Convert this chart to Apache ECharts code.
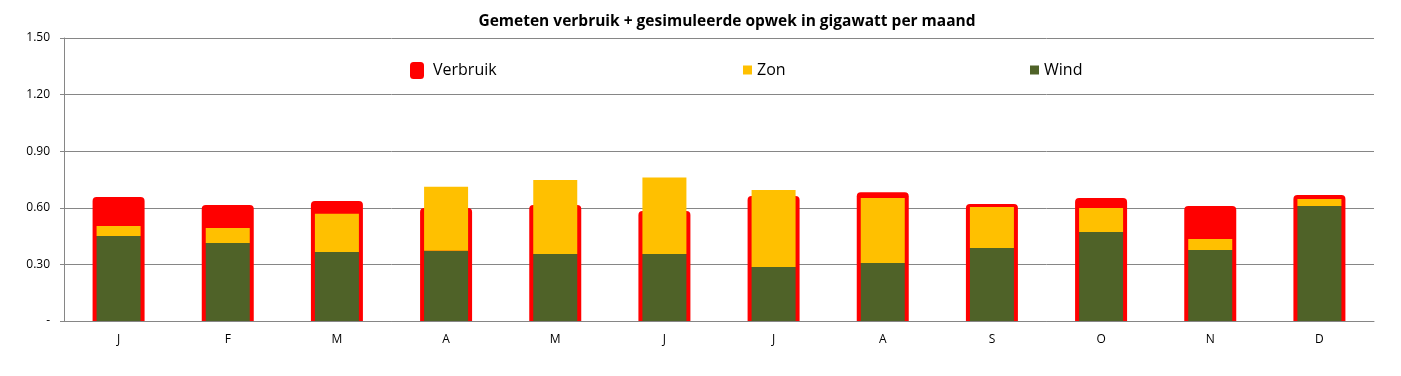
<html lang="nl">
<head>
    <meta charset="UTF-8">
    <title>Verbruik en opwek</title>
    <style>
        html, body { margin: 0; width: 100%; height: 100%; background: #fff; overflow: hidden; }
        #container { width: 1401px; height: 376px; }
    </style>
</head>
<body>
<div id="container"></div>
<script src="https://cdn.jsdelivr.net/npm/echarts@6/dist/echarts.min.js"></script>
<script>
    // maanden
    var months = ['J', 'F', 'M', 'A', 'M', 'J', 'J', 'A', 'S', 'O', 'N', 'D'];
    // gemeten verbruik (GW)
    var verbruik = [0.657, 0.615, 0.636, 0.599, 0.615, 0.583, 0.662, 0.682, 0.620, 0.652, 0.609, 0.668];
    // gesimuleerde opwek wind (GW)
    var wind = [0.450, 0.413, 0.366, 0.373, 0.355, 0.355, 0.286, 0.307, 0.387, 0.472, 0.376, 0.609];
    // gesimuleerde opwek zon (GW), gestapeld op wind
    var zon = [0.053, 0.080, 0.203, 0.339, 0.392, 0.405, 0.408, 0.345, 0.217, 0.127, 0.059, 0.038];
    var yTicks = ['-', '0.30', '0.60', '0.90', '1.20', '1.50'];

    var font = 'Open Sans, Roboto, sans-serif';
    var grey = '#868686';

    var myChart = echarts.init(document.getElementById('container'));
    var option = {
        animation: false,
        title: {
            text: 'Gemeten verbruik + gesimuleerde opwek in gigawatt per maand',
            left: 722, top: 9, textAlign: 'center',
            textStyle: { fontFamily: font, fontSize: 15.5, fontWeight: 'bold', color: '#000' }
        },
        legend: [
            { data: ['Verbruik'], left: 410, top: 62, padding: 0, icon: 'roundRect', itemWidth: 14, itemHeight: 17,
              textStyle: { fontFamily: font, fontSize: 16, color: '#000', padding: [0, 0, 0, 4] } },
            { data: ['Zon'], left: 743, top: 62, padding: 0, icon: 'rect', itemWidth: 9, itemHeight: 9,
              textStyle: { fontFamily: font, fontSize: 16, color: '#000' } },
            { data: ['Wind'], left: 1030, top: 62, padding: 0, icon: 'rect', itemWidth: 9, itemHeight: 9,
              textStyle: { fontFamily: font, fontSize: 16, color: '#000' } }
        ],
        grid: { left: 64, right: 27, top: 38, bottom: 55 },
        xAxis: [
            {
                type: 'category', data: months,
                axisLine: { lineStyle: { color: grey } },
                axisTick: { length: 5, lineStyle: { color: grey } },
                axisLabel: { fontFamily: font, fontSize: 12, color: '#000', margin: 13 }
            },
            { type: 'category', data: months, show: false, position: 'bottom' }
        ],
        yAxis: {
            type: 'value', min: 0, max: 1.5, interval: 0.3,
            axisLine: { show: true, lineStyle: { color: grey } },
            axisTick: { show: true, length: 4, lineStyle: { color: grey } },
            splitLine: { lineStyle: { color: grey } },
            axisLabel: {
                fontFamily: font, fontSize: 12, color: '#000', margin: 14,
                formatter: function (v) { return yTicks[Math.round(v / 0.3)]; }
            }
        },
        series: [
            {
                name: 'Verbruik', type: 'bar', xAxisIndex: 1, barWidth: 52, z: 1,
                itemStyle: { color: '#ff0000', borderRadius: [4, 4, 0, 0] },
                data: verbruik
            },
            {
                name: 'Wind', type: 'bar', stack: 'opwek', barWidth: 44, z: 3,
                itemStyle: { color: '#4f6228' },
                data: wind
            },
            {
                name: 'Zon', type: 'bar', stack: 'opwek', barWidth: 44, z: 3,
                itemStyle: { color: '#ffc000' },
                data: zon
            }
        ]
    };
    myChart.setOption(option);
</script>
</body>
</html>
